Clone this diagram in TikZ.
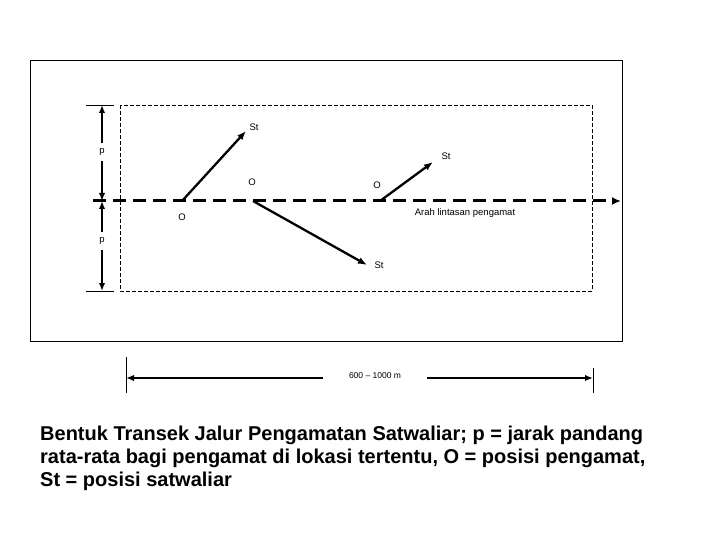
\documentclass[tikz,border=0pt]{standalone}
\usepackage{fontspec}
\setmainfont{Liberation Sans}
\usetikzlibrary{arrows.meta}
\begin{document}
\begin{tikzpicture}[x=1pt,y=-1pt,
  lbl/.style={font=\fontsize{9.5}{11}\selectfont, inner sep=1pt},
  obsarrow/.style={line width=2.3pt, -{Latex[length=9pt,width=7pt]}},
  dimarrow/.style={line width=2.2pt, -{Latex[length=8pt,width=6.5pt]}},
  thin/.style={line width=0.9pt},
  caption/.style={font=\bfseries\fontsize{20}{24}\selectfont, anchor=base west, inner sep=0pt}
]
\useasboundingbox (0,0) rectangle (720,540);
% outer frame
\draw[thin] (30,60) rectangle (622,341);
% dashed observation strip
\draw[line width=0.8pt, dash pattern=on 4pt off 2pt] (120,105) rectangle (592,291);
% path of observer
\coordinate (ls) at (93,201);
\coordinate (le) at (621,201);
\draw[line width=3pt, dash pattern=on 13pt off 7pt, -{Latex[length=9pt,width=8pt]}] (ls) -- (le);
% left dimension
\coordinate (dtop) at (102,105);
\coordinate (dmid) at (102,201);
\coordinate (dbot) at (102,291);
\draw[thin] (86,105) -- (114,105);
\draw[thin] (86,291) -- (114,291);
\node[lbl, inner sep=5pt] (p1) at (102,152) {p};
\node[lbl, inner sep=5pt] (p2) at (102,241) {p};
\draw[dimarrow] (p1) -- (dtop);
\draw[dimarrow] (p1) -- (dmid);
\draw[dimarrow] (p2) -- (dmid);
\draw[dimarrow] (p2) -- (dbot);
% observers and animals
\coordinate (o1) at (182,201);
\coordinate (s1) at (246,131);
\coordinate (o2) at (253,201);
\coordinate (s2) at (367,265);
\coordinate (o3) at (380,201);
\coordinate (s3) at (433,162);
\draw[obsarrow] (o1) -- (s1);
\draw[obsarrow] (o2) -- (s2);
\draw[obsarrow] (o3) -- (s3);
\node[lbl] (lo1) at (182,217) {O};
\node[lbl] (lo2) at (252,182) {O};
\node[lbl] (lo3) at (377,185) {O};
\node[lbl] (ls1) at (254,127) {St};
\node[lbl] (ls2) at (379,265) {St};
\node[lbl] (ls3) at (446,156) {St};
\node[lbl] (arah) at (465,213) {Arah lintasan pengamat};
% bottom dimension
\coordinate (bl) at (126,378);
\coordinate (br) at (593,378);
\draw[thin] (126,357) -- (126,393);
\draw[thin] (593,368) -- (593,393);
\node[lbl, font=\fontsize{8.5}{10}\selectfont, inner xsep=26pt] (len) at (375,376) {600 -- 1000 m};
\draw[dimarrow] (len.west |- bl) -- (bl);
\draw[dimarrow] (len.east |- br) -- (br);
% caption
\node[caption] (c1) at (40,440) {Bentuk Transek Jalur Pengamatan Satwaliar; p = jarak pandang};
\node[caption] (c2) at (40,463) {rata-rata bagi pengamat di lokasi tertentu, O = posisi pengamat,};
\node[caption] (c3) at (40,486) {St = posisi satwaliar};
\end{tikzpicture}
\end{document}
